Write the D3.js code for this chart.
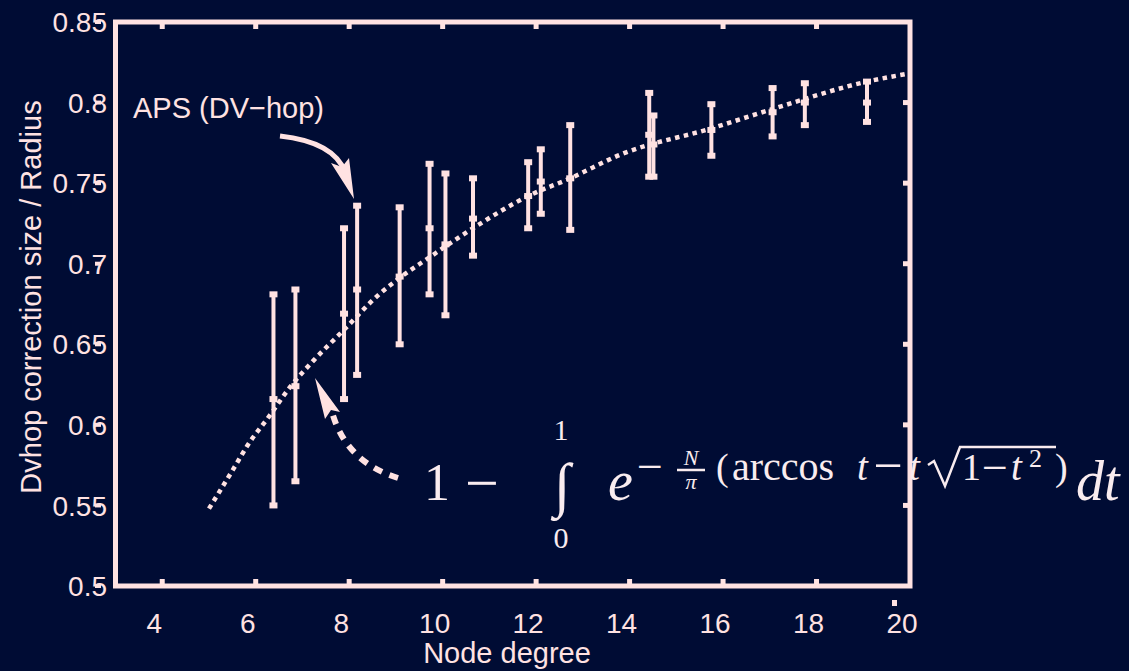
<!DOCTYPE html>
<html>
<head>
<meta charset="utf-8">
<script src="https://cdn.jsdelivr.net/npm/d3@7"></script>
<style>
  body { margin: 0; background: #000c34; }
  text { font-family: "Liberation Sans", Arial, sans-serif; fill: #ffe2e2; }
  .math { font-family: "Liberation Serif", "DejaVu Serif", serif; fill: #f9ecef; }
</style>
</head>
<body>
<script>
// Error bar data (node degree, mean, low, high)
var degree  = [6.38, 6.85, 7.89, 8.17, 9.08, 9.72, 10.06, 10.65, 11.83, 12.10, 12.73, 14.42, 14.51, 15.75, 17.06, 17.75, 19.08];
var meanVal = [0.616, 0.624, 0.669, 0.684, 0.692, 0.722, 0.712, 0.728, 0.742, 0.751, 0.753, 0.780, 0.774, 0.783, 0.794, 0.800, 0.800];
var lowVal  = [0.550, 0.565, 0.616, 0.631, 0.650, 0.681, 0.668, 0.705, 0.722, 0.731, 0.721, 0.754, 0.754, 0.767, 0.779, 0.786, 0.788];
var highVal = [0.681, 0.684, 0.722, 0.736, 0.735, 0.762, 0.756, 0.753, 0.763, 0.771, 0.786, 0.806, 0.792, 0.799, 0.809, 0.812, 0.813];

// Analytical curve, points
var curveDegree = [5.00, 5.53, 5.82, 6.28, 6.75, 7.24, 7.89, 8.64, 9.07, 9.72, 10.65, 11.83, 12.73, 13.83, 15.75, 17.06, 19.08, 19.97];
var curveVal    = [0.548, 0.573, 0.587, 0.605, 0.624, 0.640, 0.659, 0.681, 0.691, 0.704, 0.722, 0.742, 0.753, 0.768, 0.784, 0.796, 0.813, 0.818];

var xTicks = [4, 6, 8, 10, 12, 14, 16, 18, 20];
var yTicks = [0.5, 0.55, 0.6, 0.65, 0.7, 0.75, 0.8, 0.85];

var width = 1129, height = 671;
var fg = '#ffe2e2';

var x = d3.scaleLinear().domain([3, 20]).range([115.5, 910]);
var y = d3.scaleLinear().domain([0.5, 0.85]).range([586, 22]);

var svg = d3.select('body').append('svg')
    .attr('width', width)
    .attr('height', height);

svg.append('rect')
    .attr('width', width).attr('height', height)
    .attr('fill', '#000c34');

// Frame
svg.append('rect')
    .attr('x', x(3)).attr('y', y(0.85))
    .attr('width', x(20) - x(3)).attr('height', y(0.5) - y(0.85))
    .attr('fill', 'none').attr('stroke', fg).attr('stroke-width', 5);

// Inward ticks top / bottom
var innerX = xTicks.filter(function(d) { return d < 20; });
svg.selectAll('.tb').data(innerX).enter().append('rect')
    .attr('x', function(d) { return x(d) - 2.5; })
    .attr('y', y(0.85))
    .attr('width', 5).attr('height', 7).attr('fill', fg);
svg.selectAll('.bb').data(innerX).enter().append('rect')
    .attr('x', function(d) { return x(d) - 2.5; })
    .attr('y', y(0.5) - 7)
    .attr('width', 5).attr('height', 7).attr('fill', fg);

// Inward ticks right
var innerY = yTicks.filter(function(d) { return d > 0.5 && d < 0.85; });
svg.selectAll('.rt').data(innerY).enter().append('rect')
    .attr('x', x(20) - 7)
    .attr('y', function(d) { return y(d) - 2.5; })
    .attr('width', 7).attr('height', 5).attr('fill', fg);

// Left ticks (drawn offset, over the labels)
svg.selectAll('.lt').data(yTicks).enter().append('rect')
    .attr('x', 95)
    .attr('y', function(d) { return y(d) - 2; })
    .attr('width', 6).attr('height', 4).attr('fill', fg);

// stray tick near the 20 label
svg.append('rect')
    .attr('x', x(20) - 18).attr('y', 600)
    .attr('width', 5).attr('height', 6).attr('fill', fg);

// Tick labels
svg.selectAll('.yl').data(yTicks).enter().append('text')
    .attr('x', 107)
    .attr('y', function(d) { return y(d); })
    .attr('dy', '0.36em')
    .attr('text-anchor', 'end')
    .style('font-size', '28px')
    .text(function(d) { return d3.format('')(d); });

svg.selectAll('.xl').data(xTicks).enter().append('text')
    .attr('x', function(d) { return x(d) - 8; })
    .attr('y', 633)
    .attr('text-anchor', 'middle')
    .style('font-size', '28px')
    .text(function(d) { return d; });

// Axis titles
svg.append('text')
    .attr('x', 507).attr('y', 663)
    .attr('text-anchor', 'middle')
    .style('font-size', '29px')
    .text('Node degree');

svg.append('text')
    .attr('transform', 'translate(41,297) rotate(-90)')
    .attr('text-anchor', 'middle')
    .style('font-size', '29px')
    .text('Dvhop correction size / Radius');

// Dotted analytical curve
var pts = curveDegree.map(function(d, i) { return [d, curveVal[i]]; });
var line = d3.line()
    .x(function(d) { return x(d[0]); })
    .y(function(d) { return y(d[1]); })
    .curve(d3.curveMonotoneX);
svg.append('path')
    .attr('d', line(pts))
    .attr('fill', 'none')
    .attr('stroke', fg)
    .attr('stroke-width', 4.5)
    .attr('stroke-dasharray', '4.5,4.5');

// Error bars
var bars = svg.selectAll('.bar').data(degree).enter().append('g');
bars.append('line')
    .attr('x1', function(d) { return x(d); })
    .attr('x2', function(d) { return x(d); })
    .attr('y1', function(d, i) { return y(lowVal[i]); })
    .attr('y2', function(d, i) { return y(highVal[i]); })
    .attr('stroke', fg).attr('stroke-width', 4);
[lowVal, highVal, meanVal].forEach(function(arr) {
    bars.append('rect')
        .attr('x', function(d) { return x(d) - 4; })
        .attr('y', function(d, i) { return y(arr[i]) - 3; })
        .attr('width', 8).attr('height', 6)
        .attr('fill', fg);
});

// APS annotation with solid arrow
svg.append('text')
    .attr('x', 133).attr('y', 118)
    .style('font-size', '29px')
    .text('APS (DV\u2212hop)');
svg.append('path')
    .attr('d', 'M280,136 Q334,142 345,172')
    .attr('fill', 'none').attr('stroke', fg).attr('stroke-width', 5);
svg.append('path')
    .attr('d', 'M354,199 L331,163 L342,167 L349,158 Z')
    .attr('fill', fg);

// Dashed arrow to the curve
svg.append('path')
    .attr('d', 'M398,478 Q346,462 332,412')
    .attr('fill', 'none').attr('stroke', fg).attr('stroke-width', 6)
    .attr('stroke-dasharray', '9,8');
svg.append('path')
    .attr('d', 'M315,378 L340,412 L331,410 L325,419 Z')
    .attr('fill', fg);

// Formula
function mt(tx, ty, s, size, italic, anchor) {
    return svg.append('text').attr('class', 'math')
        .attr('x', tx).attr('y', ty)
        .attr('text-anchor', anchor || 'start')
        .style('font-size', size + 'px')
        .style('font-style', italic ? 'italic' : 'normal')
        .text(s);
}
mt(424, 500, '1', 52);
mt(482, 503, '\u2212', 60, false, 'middle');
mt(562, 505, '\u222B', 60, true, 'middle');
mt(561, 440, '1', 30, false, 'middle');
mt(561, 548, '0', 30, false, 'middle');
mt(608, 500, 'e', 56, true);
mt(650, 482, '\u2212', 46, false, 'middle');
mt(691, 465, 'N', 22, true, 'middle');
svg.append('line').attr('x1', 677).attr('x2', 705).attr('y1', 470).attr('y2', 470)
    .attr('stroke', '#f9ecef').attr('stroke-width', 2.5);
mt(691, 489, '\u03C0', 22, true, 'middle');
mt(716, 480, '(', 38);
mt(732, 480, 'arccos', 40);
mt(857, 480, 't', 39, true);
mt(888, 483, '\u2212', 52, false, 'middle');
mt(909, 480, 't', 39, true);
svg.append('path')
    .attr('d', 'M928,465 L934,461 L945,486 L960,447 L1056,447')
    .attr('fill', 'none').attr('stroke', '#f9ecef').attr('stroke-width', 2.5);
mt(962, 480, '1', 38);
mt(995, 483, '\u2212', 46, false, 'middle');
mt(1011, 480, 't', 39, true);
mt(1029, 467, '2', 26);
mt(1055, 480, ')', 38);
mt(1076, 500, 'dt', 56, true);
</script>
</body>
</html>
